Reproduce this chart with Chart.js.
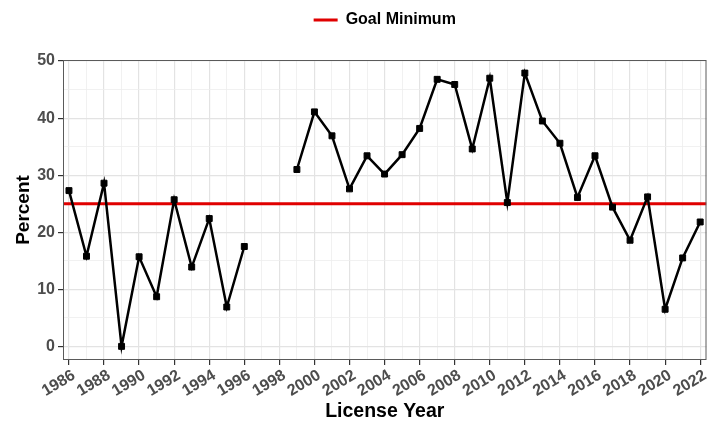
<!DOCTYPE html>
<html>
<head>
<meta charset="utf-8">
<script src="https://cdn.jsdelivr.net/npm/chart.js@4.4.1/dist/chart.umd.min.js"></script>
<style>
    html, body { margin: 0; padding: 0; background: #fff; }
    #wrap { width: 718px; height: 423px; position: relative; }
</style>
</head>
<body>
<div id="wrap"><canvas id="licenseChart"></canvas></div>
<script>
// License years and the percent for each year (1997, 1998 missing)
const years = [1986, 1987, 1988, 1989, 1990, 1991, 1992, 1993, 1994, 1995, 1996, 1997, 1998,
    1999, 2000, 2001, 2002, 2003, 2004, 2005, 2006, 2007, 2008, 2009, 2010,
    2011, 2012, 2013, 2014, 2015, 2016, 2017, 2018, 2019, 2020, 2021, 2022];
const percent = [27.3, 15.8, 28.6, 0, 15.7, 8.7, 25.7, 13.9, 22.4, 6.9, 17.5, null, null,
    31.0, 41.1, 36.9, 27.6, 33.4, 30.2, 33.6, 38.2, 46.8, 45.9, 34.6, 47.0,
    25.2, 47.9, 39.5, 35.6, 26.1, 33.4, 24.4, 18.6, 26.2, 6.5, 15.5, 21.8];
const goalMinimum = 25;

// tick labels
const xTickLabels = [1986, 1988, 1990, 1992, 1994, 1996, 1998, 2000, 2002, 2004, 2006,
    2008, 2010, 2012, 2014, 2016, 2018, 2020, 2022];
const yGridValues = [0, 5, 10, 15, 20, 25, 30, 35, 40, 45, 50];
const yTickLabels = [0, 10, 20, 30, 40, 50];

const X_MIN = 1985.66, X_MAX = 2022.36;
const Y_MIN = -2.39, Y_MAX = 50.19;

const tickGrey = '#4d4d4d';
const font = "'Liberation Sans', Arial, sans-serif";

// panel border like theme_bw
const panelBorder = {
    id: 'panelBorder',
    afterDatasetsDraw(chart) {
        const a = chart.chartArea;
        const ctx = chart.ctx;
        ctx.save();
        ctx.strokeStyle = '#5a5a5a';
        ctx.lineWidth = 1;
        ctx.strokeRect(a.left + 0.5, a.top + 0.5, a.right - a.left - 1, a.bottom - a.top - 1);
        ctx.restore();
    }
};

const ctx = document.getElementById('licenseChart').getContext('2d');
new Chart(ctx, {
    type: 'line',
    data: {
        datasets: [{
            label: 'Percent',
            data: years.map((yr, i) => ({ x: yr, y: percent[i] })),
            borderColor: '#000',
            borderWidth: 2.5,
            pointStyle: 'rect',
            pointRadius: 4.2,
            pointBackgroundColor: '#000',
            pointBorderColor: '#000',
            pointBorderWidth: 1,
            spanGaps: false,
            tension: 0
        }, {
            label: 'Goal Minimum',
            data: [{ x: X_MIN, y: goalMinimum }, { x: X_MAX, y: goalMinimum }],
            borderColor: '#e00000',
            backgroundColor: '#e00000',
            borderWidth: 3,
            pointRadius: 0,
            pointStyle: 'line'
        }]
    },
    options: {
        responsive: true,
        maintainAspectRatio: false,
        animation: false,
        layout: { padding: 0 },
        plugins: {
            tooltip: { enabled: false },
            legend: {
                position: 'top',
                fullSize: false,
                labels: {
                    filter: item => item.datasetIndex === 1,
                    usePointStyle: true,
                    pointStyleWidth: 24,
                    color: '#000',
                    padding: 12,
                    font: { family: font, size: 16, weight: 'bold' }
                }
            }
        },
        scales: {
            x: {
                type: 'linear',
                min: X_MIN,
                max: X_MAX,
                afterBuildTicks: s => { s.ticks = years.map(v => ({ value: v })); },
                afterFit: s => { s.height = 63; },
                ticks: {
                    autoSkip: false,
                    minRotation: 31,
                    maxRotation: 31,
                    padding: 1,
                    labelOffset: 5,
                    color: tickGrey,
                    font: { family: font, size: 16, weight: 'bold' },
                    callback: v => xTickLabels.includes(v) ? String(v) : ''
                },
                grid: {
                    color: c => (c.tick && c.tick.value % 2 === 0) ? '#e3e3e3' : '#eeeeee',
                    lineWidth: c => (c.tick && c.tick.value % 2 === 0) ? 1.2 : 0.8,
                    tickLength: 5,
                    tickColor: c => (c.tick && xTickLabels.includes(c.tick.value)) ? '#333' : 'rgba(0,0,0,0)'
                },
                border: { display: false },
                title: {
                    display: true,
                    text: 'License Year',
                    color: '#000',
                    padding: { top: 0, bottom: 0 },
                    font: { family: font, size: 19.5, weight: 'bold' }
                }
            },
            xTop: {
                type: 'linear',
                position: 'top',
                display: true,
                grid: { display: false },
                ticks: { display: false },
                border: { display: false },
                afterFit: s => { s.height = 22; }
            },
            y: {
                type: 'linear',
                min: Y_MIN,
                max: Y_MAX,
                afterBuildTicks: s => { s.ticks = yGridValues.map(v => ({ value: v })); },
                afterFit: s => { s.width = 63; },
                ticks: {
                    padding: 3,
                    color: tickGrey,
                    font: { family: font, size: 16, weight: 'bold' },
                    callback: v => yTickLabels.includes(v) ? String(v) : ''
                },
                grid: {
                    color: c => (c.tick && c.tick.value % 10 === 0) ? '#e3e3e3' : '#eeeeee',
                    lineWidth: c => (c.tick && c.tick.value % 10 === 0) ? 1.2 : 0.8,
                    tickLength: 5,
                    tickColor: c => (c.tick && yTickLabels.includes(c.tick.value)) ? '#333' : 'rgba(0,0,0,0)'
                },
                border: { display: false },
                title: {
                    display: true,
                    text: 'Percent',
                    color: '#000',
                    padding: { top: 12.5, bottom: 0 },
                    font: { family: font, size: 19, weight: 'bold' }
                }
            },
            yRight: {
                type: 'linear',
                position: 'right',
                display: true,
                grid: { display: false },
                ticks: { display: false },
                border: { display: false },
                afterFit: s => { s.width = 11.5; }
            }
        }
    },
    plugins: [panelBorder]
});
</script>
</body>
</html>
